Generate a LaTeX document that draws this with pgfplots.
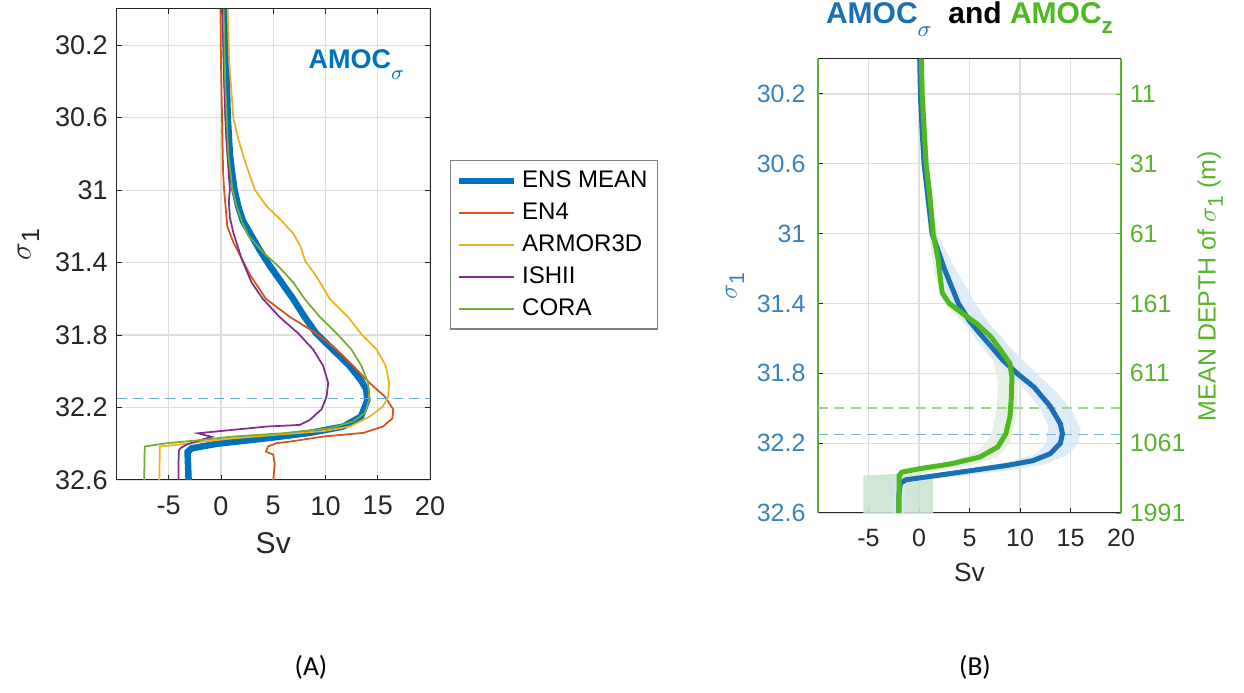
\documentclass[border=0pt]{standalone}
\usepackage{fontspec}
\setmainfont{Liberation Sans}
\newfontfamily\capfont{Carlito}
\usepackage{pgfplots}
\pgfplotsset{compat=1.18}

\definecolor{mblue}{HTML}{0072BD}
\definecolor{morange}{HTML}{D95319}
\definecolor{myellow}{HTML}{EDB120}
\definecolor{mpurple}{HTML}{7E2F8E}
\definecolor{mgreen}{HTML}{77AC30}
\definecolor{bblue}{HTML}{1A6FB5}
\definecolor{bgreen}{HTML}{4DB81F}
\definecolor{tblue}{HTML}{3A82BE}
\definecolor{tgreen}{HTML}{58B42C}
\definecolor{gridc}{HTML}{DEDEDE}
\definecolor{axc}{HTML}{262626}
\definecolor{bandblue}{HTML}{D6E7F6}
\definecolor{bandgreen}{HTML}{E2ECDD}
\definecolor{boxgreen}{HTML}{CBE4D4}

\pgfplotsset{
  sigmaaxis/.style={
    scale only axis, y dir=reverse,
    xmin=-10, xmax=20, ymin=30, ymax=32.6,
    xtick={-5,0,5,10,15,20}, xticklabels={-5,0,5,10,15,20},
    ytick={30.2,30.6,31,31.4,31.8,32.2,32.6},
    yticklabels={30.2,30.6,31,31.4,31.8,32.2,32.6},
    grid=major, major grid style={gridc, line width=0.5pt},
    tick align=inside, major tick length=2pt,
    tick style={axc, line width=0.4pt},
    axis line style={axc, line width=0.4pt},
    /pgf/number format/assume math mode=true,
    ticklabel style={text=axc},
    label style={text=axc},
  }
}

\begin{document}
\begin{tikzpicture}
\useasboundingbox (0,0) rectangle (497.6pt,277.2pt);

% ---------- panel A ----------
\begin{axis}[sigmaaxis,
  at={(46.6pt,85.2pt)}, anchor=south west,
  width=125.4pt, height=188.4pt,
  font=\fontsize{10.8}{13}\selectfont,
  xticklabel style={yshift=-3pt},
  xlabel={\fontsize{12}{14}\selectfont Sv},
  xlabel style={at={(axis description cs:0.5,-0.134)}, anchor=center},
  ylabel={\fontsize{12}{14}\selectfont$\sigma$\raisebox{-0.55ex}{\fontsize{10}{12}\selectfont 1}},
  ylabel style={at={(axis description cs:-0.281,0.5)}, anchor=center},
  legend style={at={(axis description cs:1.064,0.679)}, anchor=north west,
    draw=gray, line width=0.5pt, font=\fontsize{9.6}{11}\selectfont,
    row sep=0.6pt, inner sep=2pt},
  legend cell align=left,
  legend image code/.code={\draw[#1] (0pt,0pt) -- (22pt,0pt);},
]
\addplot[mblue, line width=2.6pt] coordinates {
(0.35,30.0) (0.45,30.2) (0.55,30.4) (0.65,30.6) (0.85,30.8) (1.05,30.9) (1.3,31.0)
(1.65,31.09) (2.1,31.17) (2.8,31.24) (3.7,31.33) (4.7,31.42) (5.8,31.51) (6.9,31.6)
(8.0,31.7) (9.1,31.79) (10.7,31.88) (12.3,31.97) (13.4,32.05) (13.9,32.1) (14.0,32.16)
(13.4,32.25) (11.7,32.305) (8.5,32.34) (4.3,32.37) (-0.4,32.4) (-2.8,32.425)
(-3.2,32.445) (-3.1,32.6)};
\addlegendentry{ENS MEAN}
\addplot[morange, line width=0.7pt] coordinates {
(-0.05,30.0) (0.0,30.3) (0.1,30.6) (0.2,30.9) (0.3,31.0) (0.45,31.1) (0.6,31.2)
(1.2,31.29) (2.0,31.38) (2.8,31.47) (4.3,31.6) (6.6,31.7) (9.1,31.79) (11.05,31.88)
(12.65,31.97) (14.24,32.065) (15.68,32.14) (16.48,32.21) (16.4,32.26) (15.5,32.305)
(13.6,32.34) (9.8,32.36) (6.6,32.388) (5.3,32.397) (4.5,32.415) (4.3,32.443)
(5.0,32.46) (5.15,32.51) (5.0,32.6)};
\addlegendentry{EN4}
\addplot[myellow, line width=0.7pt] coordinates {
(0.64,30.0) (0.8,30.3) (1.18,30.6) (1.66,30.72) (2.46,30.87) (3.26,31.0) (4.38,31.09)
(5.65,31.16) (6.93,31.24) (7.6,31.31) (8.05,31.39) (9.17,31.48) (10.4,31.6)
(12.3,31.71) (13.5,31.8) (14.9,31.88) (15.77,31.97) (16.09,32.065) (16.0,32.14)
(15.5,32.194) (14.24,32.25) (12.33,32.305) (9.78,32.33) (5.31,32.35) (1.16,32.37)
(-2.03,32.39) (-4.26,32.406) (-5.85,32.415) (-5.9,32.6)};
\addlegendentry{ARMOR3D}
\addplot[mpurple, line width=0.7pt] coordinates {
(0.15,30.0) (0.3,30.4) (0.5,30.7) (0.85,31.0) (0.75,31.06) (0.85,31.15) (1.18,31.235)
(1.98,31.38) (2.93,31.51) (4.0,31.6) (5.6,31.7) (7.38,31.79) (8.82,31.88) (9.78,31.97)
(10.26,32.065) (10.1,32.14) (9.62,32.21) (8.5,32.268) (7.54,32.296) (4.35,32.305)
(1.16,32.323) (-2.2,32.342) (-0.9,32.362) (-2.0,32.38) (-3.3,32.405) (-3.9,32.425)
(-4.05,32.44) (-4.07,32.6)};
\addlegendentry{ISHII}
\addplot[mgreen, line width=0.7pt] coordinates {
(0.25,30.0) (0.4,30.4) (0.7,30.8) (1.1,31.0) (1.5,31.087) (1.98,31.17) (2.61,31.25)
(4.05,31.345) (5.49,31.42) (6.92,31.51) (8.0,31.6) (9.46,31.70) (11.05,31.79)
(12.49,31.88) (13.44,31.97) (14.08,32.065) (14.18,32.157) (13.76,32.23) (12.65,32.277)
(10.4,32.314) (5.95,32.342) (1.16,32.36) (-2.03,32.38) (-5.2,32.397) (-7.3,32.415)
(-7.35,32.6)};
\addlegendentry{CORA}
\addplot[forget plot, color=mblue!60, line width=0.6pt, dash pattern=on 4pt off 2.5pt]
  coordinates {(-10,32.15) (20,32.15)};
\node[anchor=base west, text=mblue, font=\bfseries\fontsize{10.8}{13}\selectfont]
  at (axis cs:7.55,30.326) {AMOC\raisebox{-0.8ex}{\fontsize{8}{9}\selectfont$\sigma$}};
\end{axis}

% ---------- panel B ----------
\begin{axis}[sigmaaxis,
  at={(327.2pt,72pt)}, anchor=south west,
  width=121.2pt, height=181.6pt,
  font=\fontsize{10}{12}\selectfont,
  separate axis lines,
  y axis line style={tgreen, line width=0.5pt},
  xtick pos=lower, ytick pos=left,
  grid style={gridc},
  xticklabel style={yshift=-3pt},
  yticklabel style={text=tblue, xshift=-1.5pt},
  xlabel={\fontsize{10.5}{12}\selectfont Sv},
  xlabel style={at={(axis description cs:0.5,-0.132)}, anchor=center},
  ylabel={\color{tblue}$\sigma$\raisebox{-0.55ex}{\fontsize{8.5}{10}\selectfont 1}},
  ylabel style={at={(axis description cs:-0.274,0.5)}, anchor=center},
  title={\bfseries\fontsize{12}{14}\selectfont\textcolor{bblue}{AMOC\raisebox{-0.8ex}{\fontsize{9}{10}\selectfont$\sigma$}}\ \ and \textcolor{bgreen}{AMOC\raisebox{-0.6ex}{\fontsize{9}{10}\selectfont z}}},
  title style={anchor=base, yshift=8pt},
]
% spread of the bottom layer
\addplot[draw=none, fill=boxgreen, fill opacity=0.9] coordinates {
(-5.5,32.6) (-5.5,32.385) (-2.0,32.376) (1.4,32.39) (1.4,32.6)} -- cycle;
% green spread
\addplot[draw=none, fill=bandgreen, fill opacity=0.8] coordinates {
(0.1,30.0) (0.5,30.6) (1.0,31.0) (1.6,31.25) (2.5,31.4) (4.2,31.5) (6.0,31.6)
(7.3,31.72) (7.8,31.85) (7.7,32.0) (7.2,32.15) (6.0,32.24) (3.5,32.3) (0.5,32.34)
(-1.8,32.37) (-1.5,32.4) (1.5,32.36) (5.0,32.33) (7.8,32.28) (9.0,32.2) (9.6,32.05)
(9.8,31.9) (9.8,31.8) (9.4,31.7) (8.3,31.6) (6.7,31.5) (4.5,31.4) (3.0,31.3)
(2.3,31.15) (1.7,31.0) (1.0,30.6) (0.4,30.0)} -- cycle;
% blue spread
\addplot[draw=none, fill=bandblue, fill opacity=0.8] coordinates {
(0.0,30.0) (0.2,30.5) (0.6,30.8) (1.0,31.0) (1.7,31.15) (2.6,31.3) (3.4,31.4)
(4.5,31.5) (5.8,31.62) (7.3,31.72) (8.8,31.8) (10.6,31.9) (12.0,32.0) (12.8,32.1)
(12.6,32.2) (11.6,32.26) (9.5,32.3) (6.0,32.34) (2.0,32.37) (-1.0,32.40) (-2.5,32.43)
(-2.6,32.6) (-1.5,32.6) (-1.3,32.44) (1.0,32.41) (4.5,32.385) (9.0,32.355)
(12.5,32.32) (14.6,32.27) (15.8,32.2) (16.0,32.12) (15.2,32.02) (13.8,31.92)
(12.0,31.82) (10.2,31.72) (8.5,31.62) (7.0,31.52) (5.8,31.42) (4.6,31.3) (3.6,31.2)
(2.5,31.08) (1.8,31.0) (1.2,30.8) (0.7,30.5) (0.2,30.0)} -- cycle;
\addplot[color=bgreen!55, line width=0.6pt, dash pattern=on 4pt off 2.5pt]
  coordinates {(-10,32.0) (20,32.0)};
\addplot[color=bblue!55, line width=0.6pt, dash pattern=on 4pt off 2.5pt]
  coordinates {(-10,32.15) (20,32.15)};
\addplot[bblue, line width=2pt] coordinates {
(0.07,30.0) (0.14,30.2) (0.3,30.4) (0.5,30.6) (0.9,30.8) (1.3,31.0) (1.9,31.1)
(2.5,31.2) (3.2,31.3) (3.9,31.4) (5.0,31.5) (6.0,31.57) (7.2,31.65) (8.3,31.725)
(9.7,31.8) (11.4,31.88) (13.0,31.99) (14.0,32.09) (14.2,32.146) (14.0,32.2)
(13.0,32.26) (11.3,32.3) (8.8,32.327) (5.3,32.356) (1.8,32.385) (-1.3,32.41)
(-1.85,32.43) (-2.0,32.5) (-2.0,32.6)};
\addplot[bgreen, line width=2pt] coordinates {
(0.24,30.0) (0.31,30.2) (0.5,30.4) (0.7,30.6) (1.1,30.8) (1.4,31.0) (1.9,31.15)
(2.1,31.25) (2.3,31.34) (3.0,31.4) (4.3,31.457) (5.7,31.515) (7.1,31.59) (8.1,31.668)
(9.0,31.744) (9.2,31.82) (9.15,31.935) (9.0,32.05) (8.6,32.146) (7.8,32.222)
(6.0,32.28) (3.2,32.318) (0.1,32.346) (-1.7,32.366) (-1.96,32.385) (-2.0,32.6)};
\end{axis}

% right-hand depth axis of panel B
\begin{axis}[
  scale only axis, y dir=reverse,
  at={(327.2pt,72pt)}, anchor=south west,
  width=121.2pt, height=181.6pt,
  font=\fontsize{10}{12}\selectfont,
  xmin=-10, xmax=20, ymin=30, ymax=32.6,
  axis x line=none, axis y line*=right,
  y axis line style={tgreen, line width=0.5pt},
  tick align=inside, major tick length=2pt, tick style={tgreen},
  ytick={30.2,30.6,31,31.4,31.8,32.2,32.6},
  yticklabels={11,31,61,161,611,1061,1991},
  yticklabel style={text=tgreen},
  ylabel={\color{tgreen}MEAN DEPTH of $\sigma$\raisebox{-0.55ex}{\fontsize{8.5}{10}\selectfont 1} (m)},
  ylabel style={at={(axis description cs:1.294,0.5)}, anchor=center, rotate=0},
]
\addplot[draw=none] coordinates {(0,30) (0,32.6)};
\end{axis}

\node[font=\capfont\fontsize{11}{13}\selectfont] at (124.4pt,10.4pt) {(A)};
\node[font=\capfont\fontsize{11}{13}\selectfont] at (390pt,10.4pt) {(B)};
\end{tikzpicture}
\end{document}
